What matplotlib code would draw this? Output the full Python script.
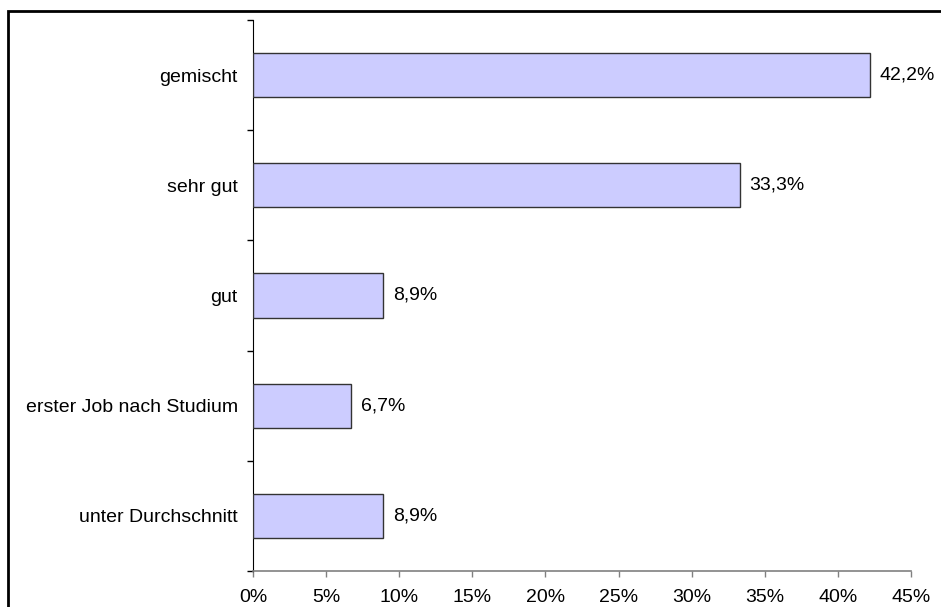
import matplotlib
matplotlib.use("Agg")
import matplotlib.pyplot as plt
from matplotlib.patches import Rectangle

categories = ["gemischt", "sehr gut", "gut", "erster Job nach Studium", "unter Durchschnitt"]
values = [42.2, 33.3, 8.9, 6.7, 8.9]
value_labels = ["42,2%", "33,3%", "8,9%", "6,7%", "8,9%"]
xticks = [0, 5, 10, 15, 20, 25, 30, 35, 40, 45]
xtick_labels = ["0%", "5%", "10%", "15%", "20%", "25%", "30%", "35%", "40%", "45%"]

plt.rcParams['font.family'] = ['Liberation Sans', 'DejaVu Sans']

W, H = 941, 607
fig = plt.figure(figsize=(W / 100, H / 100), dpi=100)
ax = fig.add_axes([253 / W, 1 - 571 / H, (911 - 253) / W, (571 - 20) / H])

n = len(categories)
ypos = list(range(n))[::-1]
ax.barh(ypos, values, height=0.4, color="#CCCCFF", edgecolor="#333333", linewidth=1.0, zorder=3)
for y, v, lab in zip(ypos, values, value_labels):
    ax.annotate(lab, (v, y), xytext=(7, 0), textcoords="offset points",
                va="center", ha="left", fontsize=14, color="black")

ax.set_xlim(0, 45)
ax.set_ylim(-0.5, n - 0.5)
ax.set_xticks(xticks)
ax.set_xticklabels(xtick_labels, fontsize=14)
ax.set_yticks(ypos)
ax.set_yticklabels(categories, fontsize=14)
ax.set_yticks([i - 0.5 for i in range(n + 1)], minor=True)
ax.tick_params(axis="y", which="major", length=0, pad=11)
ax.tick_params(axis="y", which="minor", length=4.5, width=1, color="black")
ax.tick_params(axis="x", which="major", length=4.5, width=1, color="#808080", pad=8.5)

for s in ["top", "right"]:
    ax.spines[s].set_visible(False)
ax.spines["left"].set_color("black")
ax.spines["bottom"].set_color("#808080")
ax.spines["bottom"].set_linewidth(1.2)

fig.patches.append(Rectangle((7.5 / W, -0.1), 1.2, 1 - 10.5 / H + 0.1, transform=fig.transFigure,
                             fill=False, edgecolor="black", linewidth=2))

fig.savefig("out.png", dpi=100)
